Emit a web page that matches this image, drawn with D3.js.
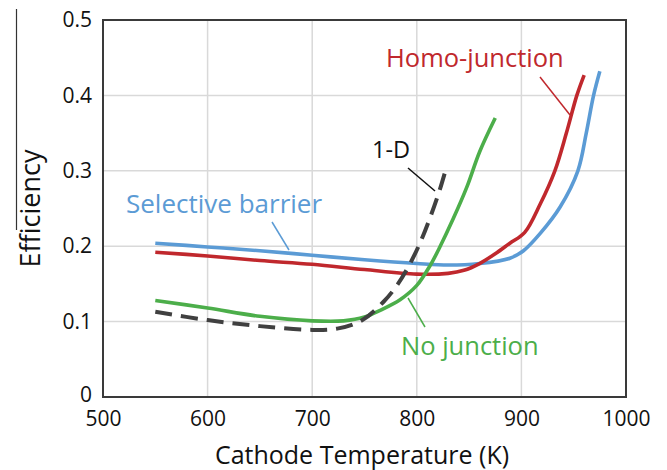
<!DOCTYPE html>
<html>
<head>
<meta charset="utf-8">
<script src="https://cdn.jsdelivr.net/npm/d3@7"></script>
<style>
  body { margin: 0; background: #fff; }
  text { font-family: "Open Sans", sans-serif; }
</style>
</head>
<body>
<div id="chart"></div>
<script>
// data: [temperature K, efficiency]
var selectiveBarrier = [[550, 0.204], [600, 0.199], [650, 0.194], [700, 0.188], [750, 0.182], [800, 0.177],
    [830, 0.175], [860, 0.177], [889, 0.184], [902, 0.194], [918, 0.217], [937, 0.252], [954, 0.3],
    [962, 0.35], [969, 0.4], [975, 0.432]];
var homoJunction = [[550, 0.192], [600, 0.187], [650, 0.181], [700, 0.176], [750, 0.169], [800, 0.163],
    [830, 0.164], [845, 0.168], [860, 0.177], [875, 0.19], [889, 0.204], [903, 0.218], [918, 0.256],
    [932, 0.3], [943, 0.35], [953, 0.4], [960, 0.427]];
var noJunction = [[550, 0.128], [600, 0.118], [650, 0.107], [700, 0.101], [730, 0.101], [750, 0.106],
    [765, 0.115], [784, 0.129], [800, 0.148], [813, 0.175], [821, 0.196], [835, 0.237], [848, 0.279],
    [860, 0.325], [875, 0.37]];
var oneD = [[550, 0.113], [600, 0.102], [650, 0.094], [700, 0.089], [725, 0.091], [748, 0.102],
    [768, 0.126], [781, 0.148], [792, 0.173], [803, 0.204], [813, 0.239], [822, 0.275], [829, 0.308]];

var xTicks = [500, 600, 700, 800, 900, 1000];
var yTicks = [0, 0.1, 0.2, 0.3, 0.4, 0.5];

var svgWidth = 667;
var svgHeight = 470;
var margin = { top: 20, right: 41, bottom: 73, left: 103 };
var width = svgWidth - margin.left - margin.right;
var height = svgHeight - margin.top - margin.bottom;

var svg = d3.select("#chart")
    .append("svg")
    .attr("width", svgWidth)
    .attr("height", svgHeight);

// stray edge line left of the axis title (as in the picture)
svg.append("line")
    .attr("x1", 16.5).attr("x2", 16.5)
    .attr("y1", 9).attr("y2", 230)
    .attr("stroke", "#333")
    .attr("stroke-width", 1.2);

var chartGroup = svg.append("g")
    .attr("transform", `translate(${margin.left}, ${margin.top})`);

var xScale = d3.scaleLinear().domain([500, 1000]).range([0, width]);
var yScale = d3.scaleLinear().domain([0, 0.5]).range([height, 0]);

// gridlines
chartGroup.append("g")
    .selectAll("line")
    .data(xTicks.slice(1, -1))
    .enter()
    .append("line")
    .attr("x1", d => xScale(d)).attr("x2", d => xScale(d))
    .attr("y1", 0).attr("y2", height)
    .attr("stroke", "#d9d9d9")
    .attr("stroke-width", 1.5);

chartGroup.append("g")
    .selectAll("line")
    .data(yTicks.slice(1, -1))
    .enter()
    .append("line")
    .attr("x1", 0).attr("x2", width)
    .attr("y1", d => yScale(d)).attr("y2", d => yScale(d))
    .attr("stroke", "#d9d9d9")
    .attr("stroke-width", 1.5);

// axes (labels only, frame drawn below)
var bottomAxis = d3.axisBottom(xScale).tickValues(xTicks).tickSize(0).tickPadding(14).tickFormat(d3.format("d"));
var leftAxis = d3.axisLeft(yScale).tickValues(yTicks).tickSize(0).tickPadding(11).tickFormat(d => d === 0 ? "0" : d3.format(".1f")(d));

var xAxis = chartGroup.append("g")
    .attr("transform", `translate(0, ${height})`)
    .call(bottomAxis);
var yAxis = chartGroup.append("g")
    .call(leftAxis);

[xAxis, yAxis].forEach(function(ax) {
    ax.select(".domain").remove();
    ax.selectAll("text")
        .attr("font-family", "Open Sans")
        .attr("font-size", "21px")
        .attr("fill", "#111");
});
// the "0" sits a little higher than its gridline in the picture
yAxis.selectAll(".tick").filter(d => d === 0).select("text").attr("dy", "0.2em");

chartGroup.append("rect")
    .attr("x", 0).attr("y", 0)
    .attr("width", width).attr("height", height)
    .attr("fill", "none")
    .attr("stroke", "#3a3a3a")
    .attr("stroke-width", 2);

// series
var line = d3.line()
    .x(d => xScale(d[0]))
    .y(d => yScale(d[1]))
    .curve(d3.curveCatmullRom.alpha(0.5));

chartGroup.append("path").datum(selectiveBarrier)
    .attr("d", line).attr("fill", "none")
    .attr("stroke", "#5b9bd5").attr("stroke-width", 3.6);
chartGroup.append("path").datum(homoJunction)
    .attr("d", line).attr("fill", "none")
    .attr("stroke", "#c0282d").attr("stroke-width", 3.6);
chartGroup.append("path").datum(noJunction)
    .attr("d", line).attr("fill", "none")
    .attr("stroke", "#4cae4a").attr("stroke-width", 3.6);
chartGroup.append("path").datum(oneD)
    .attr("d", line).attr("fill", "none")
    .attr("stroke", "#404040").attr("stroke-width", 4)
    .attr("stroke-dasharray", "17,9");

// labels with leader lines
var labels = [
    { text: "Selective barrier", color: "#5b9bd5", x: 126, y: 213, size: 26, lx1: 272, ly1: 222, lx2: 289, ly2: 250 },
    { text: "Homo-junction", color: "#c0282d", x: 386, y: 67, size: 25.5, lx1: 540, ly1: 77, lx2: 570, ly2: 115 },
    { text: "1-D", color: "#111", x: 372, y: 158, size: 23.5, lx1: 408, ly1: 168, lx2: 435, ly2: 191 },
    { text: "No junction", color: "#4cae4a", x: 401, y: 355, size: 25.5, lx1: 408, ly1: 298, lx2: 425, ly2: 327 }
];

labels.forEach(function(l) {
    svg.append("line")
        .attr("x1", l.lx1).attr("y1", l.ly1)
        .attr("x2", l.lx2).attr("y2", l.ly2)
        .attr("stroke", l.color)
        .attr("stroke-width", 1.5);
    svg.append("text")
        .attr("x", l.x).attr("y", l.y)
        .attr("font-size", l.size + "px")
        .attr("fill", l.color)
        .text(l.text);
});

// axis titles
svg.append("text")
    .attr("x", 362)
    .attr("y", 464)
    .attr("text-anchor", "middle")
    .attr("font-size", "25px")
    .attr("fill", "#111")
    .text("Cathode Temperature (K)");

svg.append("text")
    .attr("transform", "rotate(-90)")
    .attr("x", -(margin.top + height / 2))
    .attr("y", 40)
    .attr("text-anchor", "middle")
    .attr("font-size", "27px")
    .attr("fill", "#111")
    .text("Efficiency");
</script>
</body>
</html>
